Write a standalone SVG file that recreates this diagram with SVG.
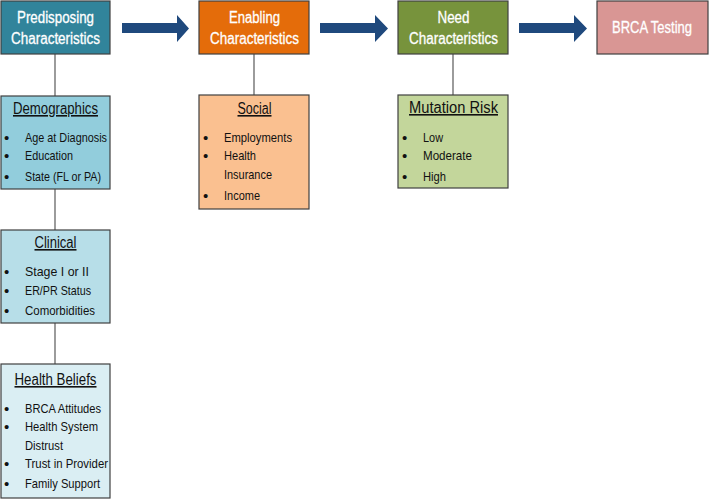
<svg xmlns="http://www.w3.org/2000/svg" width="709" height="499" viewBox="0 0 709 499">
<style>
.box{stroke:#404040;stroke-width:1.2}
.top{font-family:"Liberation Sans",Arial,sans-serif;font-size:16px;fill:#fff;text-anchor:middle;stroke:#fff;stroke-width:0.3}
.hd{font-family:"Liberation Sans",Arial,sans-serif;font-size:16px;fill:#111;text-anchor:middle;text-decoration:underline}
.it{font-family:"Liberation Sans",Arial,sans-serif;font-size:13.5px;fill:#111}
.bul{font-family:"Liberation Sans",Arial,sans-serif;font-size:15px;fill:#111}
.ln{stroke:#595959;stroke-width:1.2;fill:none}
.arr{fill:#1F497D}
</style>
<g id="connectors">
<line class="ln" x1="55" y1="54" x2="55" y2="96"/>
<line class="ln" x1="55" y1="189" x2="55" y2="230"/>
<line class="ln" x1="55" y1="323" x2="55" y2="364"/>
<line class="ln" x1="254" y1="54" x2="254" y2="95"/>
<line class="ln" x1="453" y1="54" x2="453" y2="95"/>
<polygon class="arr" points="122,23 177,23 177,15 189,28.5 177,42 177,33 122,33"/>
<polygon class="arr" points="320,23 375,23 375,15 388,28.5 375,42 375,33 320,33"/>
<polygon class="arr" points="519,23 574,23 574,15 587,28.5 574,42 574,33 519,33"/>
</g>
<g id="predisposing">
<rect class="box" x="1" y="1" width="109" height="53" fill="#31849B"/>
<text class="top" x="55.5" y="23" textLength="77" lengthAdjust="spacingAndGlyphs">Predisposing</text>
<text class="top" x="55.5" y="44" textLength="89" lengthAdjust="spacingAndGlyphs">Characteristics</text>
</g>
<g id="enabling">
<rect class="box" x="199" y="1" width="110" height="53" fill="#E46C0A"/>
<text class="top" x="254.5" y="23" textLength="51" lengthAdjust="spacingAndGlyphs">Enabling</text>
<text class="top" x="254.5" y="44" textLength="89" lengthAdjust="spacingAndGlyphs">Characteristics</text>
</g>
<g id="need">
<rect class="box" x="398" y="1" width="110" height="53" fill="#77933C"/>
<text class="top" x="453.5" y="23" textLength="32" lengthAdjust="spacingAndGlyphs">Need</text>
<text class="top" x="453.5" y="44" textLength="89" lengthAdjust="spacingAndGlyphs">Characteristics</text>
</g>
<g id="brca">
<rect class="box" x="597" y="1" width="111" height="53" fill="#D99694"/>
<text class="top" x="652" y="33" textLength="80" lengthAdjust="spacingAndGlyphs">BRCA Testing</text>
</g>
<g id="demographics">
<rect class="box" x="1" y="96" width="109" height="93" fill="#92CDDC"/>
<text class="hd" x="55.5" y="114" textLength="85" lengthAdjust="spacingAndGlyphs">Demographics</text>
<text class="bul" x="4" y="143">•</text><text class="it" x="25" y="142" textLength="82" lengthAdjust="spacingAndGlyphs">Age at Diagnosis</text>
<text class="bul" x="4" y="161">•</text><text class="it" x="25" y="160" textLength="48" lengthAdjust="spacingAndGlyphs">Education</text>
<text class="bul" x="4" y="182">•</text><text class="it" x="25" y="181" textLength="76" lengthAdjust="spacingAndGlyphs">State (FL or PA)</text>
</g>
<g id="clinical">
<rect class="box" x="1" y="230" width="109" height="93" fill="#B7DEE8"/>
<text class="hd" x="55.5" y="248" textLength="42" lengthAdjust="spacingAndGlyphs">Clinical</text>
<text class="bul" x="4" y="277">•</text><text class="it" x="25" y="276" textLength="64" lengthAdjust="spacingAndGlyphs">Stage I or II</text>
<text class="bul" x="4" y="296">•</text><text class="it" x="25" y="295" textLength="66" lengthAdjust="spacingAndGlyphs">ER/PR Status</text>
<text class="bul" x="4" y="316">•</text><text class="it" x="25" y="315" textLength="70" lengthAdjust="spacingAndGlyphs">Comorbidities</text>
</g>
<g id="healthbeliefs">
<rect class="box" x="1" y="364" width="109" height="134" fill="#DAEEF3"/>
<text class="hd" x="55.5" y="385" textLength="82" lengthAdjust="spacingAndGlyphs">Health Beliefs</text>
<text class="bul" x="4" y="414">•</text><text class="it" x="25" y="413" textLength="76" lengthAdjust="spacingAndGlyphs">BRCA Attitudes</text>
<text class="bul" x="4" y="432">•</text><text class="it" x="25" y="431" textLength="73" lengthAdjust="spacingAndGlyphs">Health System</text>
<text class="it" x="25" y="450" textLength="38" lengthAdjust="spacingAndGlyphs">Distrust</text>
<text class="bul" x="4" y="469">•</text><text class="it" x="25" y="468" textLength="83" lengthAdjust="spacingAndGlyphs">Trust in Provider</text>
<text class="bul" x="4" y="489">•</text><text class="it" x="25" y="488" textLength="75" lengthAdjust="spacingAndGlyphs">Family Support</text>
</g>
<g id="social">
<rect class="box" x="199" y="95" width="110" height="114" fill="#FAC090"/>
<text class="hd" x="254.5" y="114" textLength="34" lengthAdjust="spacingAndGlyphs">Social</text>
<text class="bul" x="203" y="143">•</text><text class="it" x="224" y="142" textLength="68" lengthAdjust="spacingAndGlyphs">Employments</text>
<text class="bul" x="203" y="161">•</text><text class="it" x="224" y="160" textLength="32" lengthAdjust="spacingAndGlyphs">Health</text>
<text class="it" x="224" y="179" textLength="48" lengthAdjust="spacingAndGlyphs">Insurance</text>
<text class="bul" x="203" y="201">•</text><text class="it" x="224" y="200" textLength="36" lengthAdjust="spacingAndGlyphs">Income</text>
</g>
<g id="mutation">
<rect class="box" x="398" y="95" width="110" height="93" fill="#C3D69B"/>
<text class="hd" x="453.5" y="113" textLength="89" lengthAdjust="spacingAndGlyphs">Mutation Risk</text>
<text class="bul" x="402" y="143">•</text><text class="it" x="423" y="142" textLength="20" lengthAdjust="spacingAndGlyphs">Low</text>
<text class="bul" x="402" y="161">•</text><text class="it" x="423" y="160" textLength="49" lengthAdjust="spacingAndGlyphs">Moderate</text>
<text class="bul" x="402" y="182">•</text><text class="it" x="423" y="181" textLength="23" lengthAdjust="spacingAndGlyphs">High</text>
</g>
</svg>
